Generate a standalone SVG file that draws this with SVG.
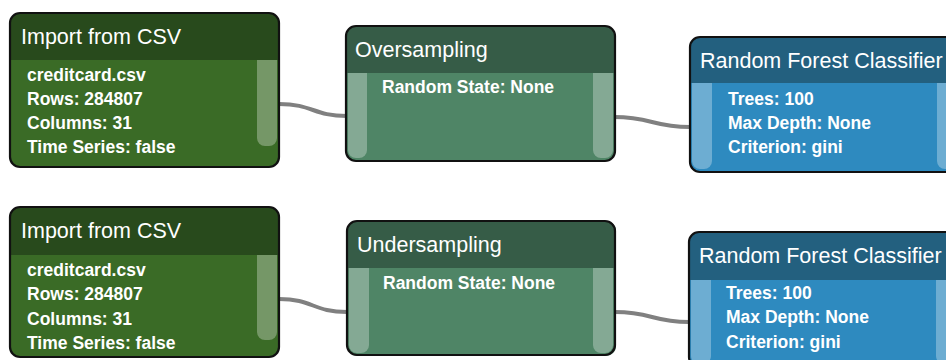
<svg xmlns="http://www.w3.org/2000/svg" width="946" height="360" viewBox="0 0 946 360">
  <style>
    .title { font-family: "Liberation Sans", Arial, sans-serif; font-size: 21.5px; fill: #ffffff; }
    .prop { font-family: "Liberation Sans", Arial, sans-serif; font-size: 17.5px; font-weight: bold; fill: #ffffff; }
    .border { fill: none; stroke: #111111; stroke-width: 2.2; }
    .strip { fill: #ffffff; fill-opacity: 0.3; }
    .wire { fill: none; stroke: #808080; stroke-width: 4; stroke-linecap: round; }
    .csv .head { fill: #284a1c; }
    .csv .body { fill: #3a6b26; }
    .smp .head { fill: #365c47; }
    .smp .body { fill: #4f8566; }
    .rfc .head { fill: #23607f; }
    .rfc .body { fill: #2e8abf; }
  </style>
  <defs>
    <clipPath id="clip-tall" clipPathUnits="userSpaceOnUse">
      <rect x="0" y="0" width="269" height="154" rx="10"/>
    </clipPath>
    <clipPath id="clip-mid" clipPathUnits="userSpaceOnUse">
      <rect x="0" y="0" width="269" height="150" rx="10"/>
    </clipPath>
    <clipPath id="clip-short" clipPathUnits="userSpaceOnUse">
      <rect x="0" y="0" width="269" height="135" rx="10"/>
    </clipPath>
  </defs>

  <!-- connectors -->
  <g id="connectors">
    <path class="wire" d="M279,104 C313,104 313,116 347,116"/>
    <path class="wire" d="M614,117 C652,117 652,127 690,127"/>
    <path class="wire" d="M279,299 C313,299 313,312 347,312"/>
    <path class="wire" d="M615,312 C652,312 652,322 689,322"/>
  </g>

  <!-- top row -->
  <g id="import-csv-1" class="csv" transform="translate(10,13)">
    <g clip-path="url(#clip-tall)">
      <rect class="body" x="0" y="0" width="269" height="154"/>
      <rect class="head" x="0" y="0" width="269" height="47"/>
      <path class="strip" d="M247,47 H267 V125 a8,8 0 0 1 -8,8 h-4 a8,8 0 0 1 -8,-8 Z"/>
    </g>
    <rect class="border" x="0" y="0" width="269" height="154" rx="10"/>
    <text class="title" x="11" y="31">Import from CSV</text>
    <text class="prop" x="17" y="68">creditcard.csv</text>
    <text class="prop" x="17" y="92">Rows: 284807</text>
    <text class="prop" x="17" y="116">Columns: 31</text>
    <text class="prop" x="17" y="140">Time Series: false</text>
  </g>

  <g id="oversampling" class="smp" transform="translate(346,26)">
    <g clip-path="url(#clip-short)">
      <rect class="body" x="0" y="0" width="269" height="135"/>
      <rect class="head" x="0" y="0" width="269" height="47"/>
      <path class="strip" d="M2,47 H21 V124 a8,8 0 0 1 -8,8 h-3 a8,8 0 0 1 -8,-8 Z"/>
      <path class="strip" d="M247,47 H267 V124 a8,8 0 0 1 -8,8 h-4 a8,8 0 0 1 -8,-8 Z"/>
    </g>
    <rect class="border" x="0" y="0" width="269" height="135" rx="10"/>
    <text class="title" x="9" y="31">Oversampling</text>
    <text class="prop" x="36" y="67">Random State: None</text>
  </g>

  <g id="random-forest-1" class="rfc" transform="translate(690,37)">
    <g clip-path="url(#clip-short)">
      <rect class="body" x="0" y="0" width="269" height="135"/>
      <rect class="head" x="0" y="0" width="269" height="46"/>
      <path class="strip" d="M2,46 H22 V124 a8,8 0 0 1 -8,8 h-4 a8,8 0 0 1 -8,-8 Z"/>
      <path class="strip" d="M247,46 H267 V124 a8,8 0 0 1 -8,8 h-4 a8,8 0 0 1 -8,-8 Z"/>
    </g>
    <rect class="border" x="0" y="0" width="269" height="135" rx="10"/>
    <text class="title" x="10" y="31">Random Forest Classifier</text>
    <text class="prop" x="38" y="68">Trees: 100</text>
    <text class="prop" x="38" y="92">Max Depth: None</text>
    <text class="prop" x="38" y="116">Criterion: gini</text>
  </g>

  <!-- bottom row -->
  <g id="import-csv-2" class="csv" transform="translate(10,207)">
    <g clip-path="url(#clip-mid)">
      <rect class="body" x="0" y="0" width="269" height="150"/>
      <rect class="head" x="0" y="0" width="269" height="48"/>
      <path class="strip" d="M247,48 H267 V125 a8,8 0 0 1 -8,8 h-4 a8,8 0 0 1 -8,-8 Z"/>
    </g>
    <rect class="border" x="0" y="0" width="269" height="150" rx="10"/>
    <text class="title" x="11" y="31">Import from CSV</text>
    <text class="prop" x="17" y="69">creditcard.csv</text>
    <text class="prop" x="17" y="93">Rows: 284807</text>
    <text class="prop" x="17" y="118">Columns: 31</text>
    <text class="prop" x="17" y="142">Time Series: false</text>
  </g>

  <g id="undersampling" class="smp" transform="translate(347,221)">
    <g clip-path="url(#clip-short)">
      <rect class="body" x="0" y="0" width="269" height="135"/>
      <rect class="head" x="0" y="0" width="269" height="47"/>
      <path class="strip" d="M2,47 H22 V124 a8,8 0 0 1 -8,8 h-4 a8,8 0 0 1 -8,-8 Z"/>
      <path class="strip" d="M246,47 H266 V124 a8,8 0 0 1 -8,8 h-4 a8,8 0 0 1 -8,-8 Z"/>
    </g>
    <rect class="border" x="0" y="0" width="268" height="134" rx="10"/>
    <text class="title" x="10" y="31">Undersampling</text>
    <text class="prop" x="36" y="68">Random State: None</text>
  </g>

  <g id="random-forest-2" class="rfc" transform="translate(689,232)">
    <g clip-path="url(#clip-short)">
      <rect class="body" x="0" y="0" width="269" height="135"/>
      <rect class="head" x="0" y="0" width="269" height="48"/>
      <path class="strip" d="M2,48 H22 V124 a8,8 0 0 1 -8,8 h-4 a8,8 0 0 1 -8,-8 Z"/>
      <path class="strip" d="M247,48 H267 V124 a8,8 0 0 1 -8,8 h-4 a8,8 0 0 1 -8,-8 Z"/>
    </g>
    <rect class="border" x="0" y="0" width="269" height="135" rx="10"/>
    <text class="title" x="10" y="31">Random Forest Classifier</text>
    <text class="prop" x="37" y="67">Trees: 100</text>
    <text class="prop" x="37" y="91">Max Depth: None</text>
    <text class="prop" x="37" y="116">Criterion: gini</text>
  </g>
</svg>
